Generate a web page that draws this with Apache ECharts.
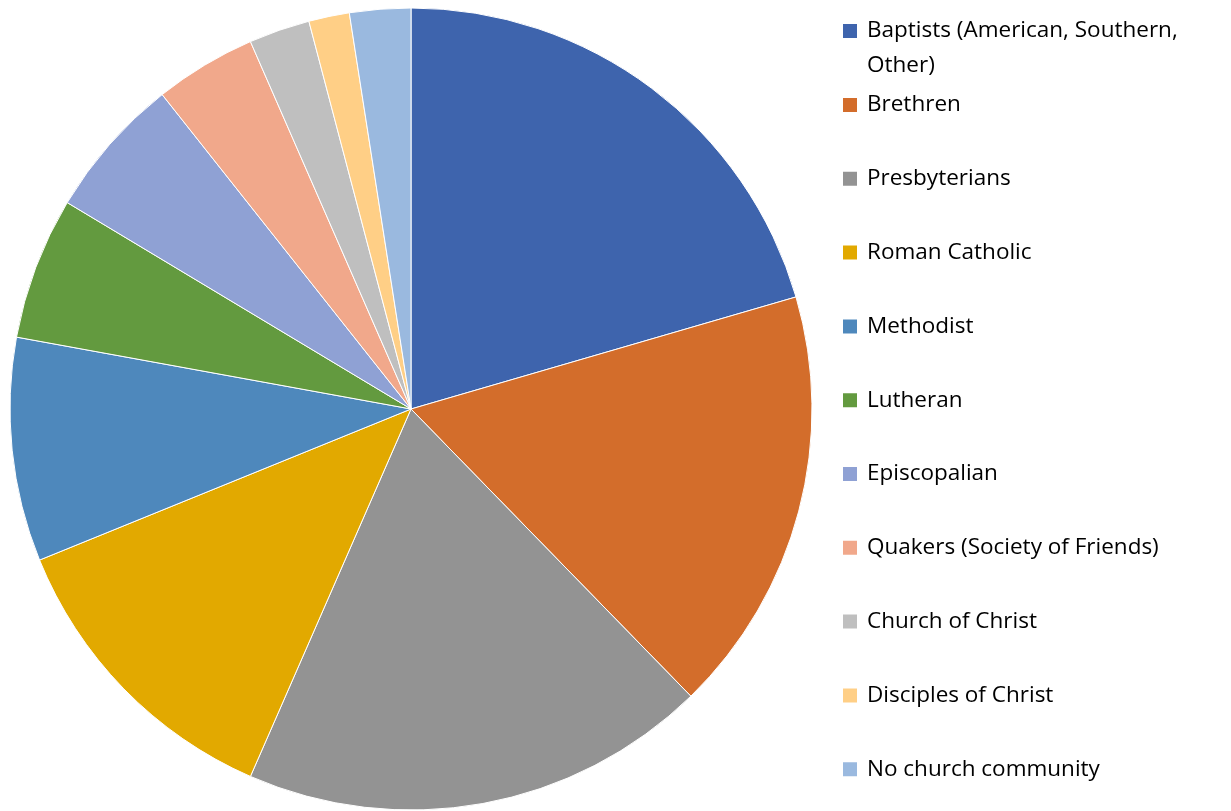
<!DOCTYPE html>
<html>
<head>
<meta charset="utf-8">
<script src="https://cdn.jsdelivr.net/npm/echarts@6/dist/echarts.min.js"></script>
<style>
  html, body { margin: 0; padding: 0; background: #fff; }
  #chart { width: 1231px; height: 811px; }
</style>
</head>
<body>
<div id="chart"></div>
<script>
const categories = [
    'Baptists (American, Southern, Other)',
    'Brethren',
    'Presbyterians',
    'Roman Catholic',
    'Methodist',
    'Lutheran',
    'Episcopalian',
    'Quakers (Society of Friends)',
    'Church of Christ',
    'Disciples of Christ',
    'No church community',
];
const counts = [25, 21, 23, 15, 11, 7, 7, 5, 3, 2, 3];
const colors = [
    '#3E64AD', '#D36D2B', '#939393', '#E2A900', '#4E88BC', '#639A3F',
    '#8FA1D4', '#F1A88B', '#BFBFBF', '#FFCF86', '#9AB9DF',
];

const chart = echarts.init(document.getElementById('chart'));
const textBase = { color: '#000', fontSize: 22.5, fontFamily: 'Open Sans' };

const option = {
    animation: false,
    color: colors,
    legend: [
        {
            // first entry wraps; a blank line above keeps the icon on the first line
            data: [categories[0]],
            orient: 'vertical',
            left: 841,
            top: -21.5,
            padding: 0,
            itemWidth: 16,
            itemHeight: 16,
            itemGap: 0,
            icon: 'rect',
            formatter: (name) => '\n' + name.replace('Southern, ', 'Southern,\n'),
            textStyle: Object.assign({}, textBase, {
                lineHeight: 35,
                padding: [0, 0, 0, 4],
            }),
        },
        {
            data: categories.slice(1),
            orient: 'vertical',
            left: 841,
            top: 93,
            padding: 0,
            itemWidth: 16,
            itemHeight: 16,
            itemGap: 49.8,
            icon: 'rect',
            textStyle: Object.assign({}, textBase, { lineHeight: 24, padding: [0, 0, 0, 4] }),
        },
    ],
    series: [
        {
            type: 'pie',
            center: [411, 409],
            radius: 401,
            startAngle: 90,
            clockwise: true,
            label: { show: false },
            labelLine: { show: false },
            itemStyle: { borderColor: '#fff', borderWidth: 1 },
            emphasis: { disabled: true },
            data: categories.map((name, i) => ({ name: name, value: counts[i] })),
        },
    ],
};
chart.setOption(option);
</script>
</body>
</html>
